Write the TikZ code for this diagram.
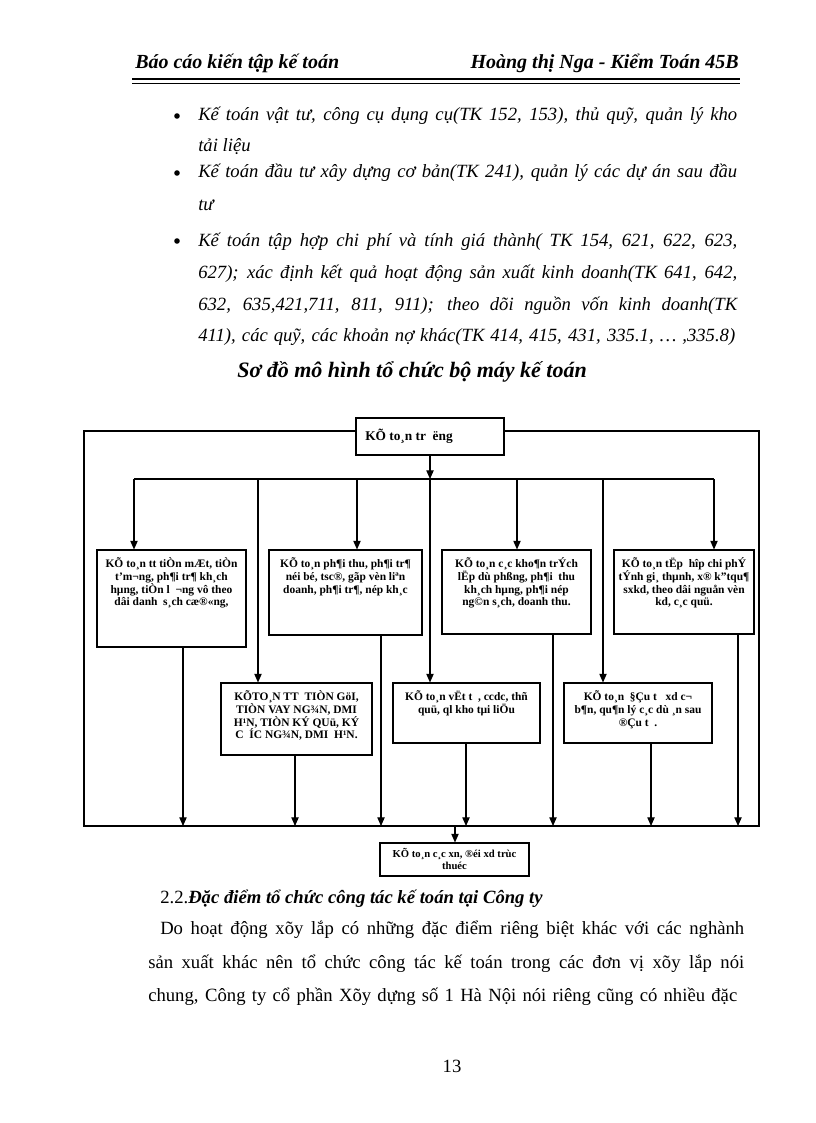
\documentclass[tikz,border=0pt]{standalone}
\usepackage{fontspec}
\setmainfont{Liberation Serif}
\usetikzlibrary{arrows.meta,fit,calc}
\begin{document}
\begin{tikzpicture}[x=0.75pt,y=-0.75pt,
  box/.style={draw,line width=0.8pt,inner sep=0pt},
  lbl/.style={font=\bfseries\fontsize{8.6}{9.6}\selectfont,align=center,anchor=north,inner sep=0pt},
  conn/.style={line width=0.8pt},
  arr/.style={line width=0.8pt,-{Triangle[length=6.5pt,width=5.5pt]}},
  ital/.style={anchor=base west,inner sep=0pt,font=\itshape\fontsize{14}{16}\selectfont},
  body/.style={anchor=base west,inner sep=0pt,font=\fontsize{14}{16}\selectfont},
  head/.style={inner sep=0pt,font=\bfseries\itshape\fontsize{15}{17}\selectfont}]
\useasboundingbox (0,0) rectangle (816,1123);
% header
\node[head,anchor=base west] (h1) at (135,69) {Báo cáo kiến tập kế toán};
\node[head,anchor=base east] (h2) at (739,69) {Hoàng thị Nga - Kiểm Toán 45B};
\draw[line width=1.3pt] (132,79) -- (740,79);
\draw[line width=0.5pt] (132,83) -- (740,83);
% bullets
\fill (177,116) circle (2.8);
\fill (177,173) circle (2.8);
\fill (177,241) circle (2.8);
\node[ital] (l1) at (198,121) {\makebox[404.25pt][s]{Kế toán vật tư, công cụ dụng cụ(TK 152, 153), thủ quỹ, quản lý kho}};
\node[ital] (l2) at (198,152) {tải liệu};
\node[ital] (l3) at (198,178) {\makebox[404.25pt][s]{Kế toán đầu tư xây dựng cơ bản(TK 241), quản lý các dự án sau đầu}};
\node[ital] (l4) at (198,210) {tư};
\node[ital] (l5) at (198,246) {\makebox[404.25pt][s]{Kế toán tập hợp chi phí và tính giá thành( TK 154, 621, 622, 623,}};
\node[ital] (l6) at (198,278) {\makebox[404.25pt][s]{627); xác định kết quả hoạt động sản xuất kinh doanh(TK 641, 642,}};
\node[ital] (l7) at (198,310) {\makebox[404.25pt][s]{632, 635,421,711, 811, 911); theo dõi nguồn vốn kinh doanh(TK}};
\node[ital] (l8) at (198,341) {\makebox[402.75pt][s]{411), các quỹ, các khoản nợ khác(TK 414, 415, 431, 335.1, … ,335.8)}};
% title
\node[head,anchor=base west,font=\bfseries\itshape\fontsize{16.5}{18}\selectfont] (title) at (237,377) {Sơ đồ mô hình tổ chức bộ máy kế toán};
% diagram
\node[box,fit={(356,418) (504,455)}] (T) {};
\node[lbl,anchor=west,font=\bfseries\fontsize{10}{11}\selectfont] (Tt) at (365,436) {KÕ to¸n tr\hspace{5pt}ëng};
\coordinate (FTL) at (84,431);
\coordinate (FTR) at (759,431);
\coordinate (FBL) at (84,826);
\coordinate (FBR) at (759,826);
\draw[conn] (FTL -| T.west) -- (FTL) -- (FBL) -- (FBR) -- (FTR) -- (FTL -| T.east);
\coordinate (busL) at (134,479);
\coordinate (busR) at (714,479);
\coordinate (v5) at (258,479);
\coordinate (v2) at (357,479);
\coordinate (v3) at (517,479);
\coordinate (v7) at (603,479);
\draw[conn] (busL) -- (busR);
\draw[arr] (T.south) -- (T.south |- busL);
% row 1 boxes
\node[box,fit={(97,550) (246,647)}] (B1) {};
\node[box,fit={(269,550) (422,635)}] (B2) {};
\node[box,fit={(442,550) (591,634)}] (B3) {};
\node[box,fit={(614,550) (754,634)}] (B4) {};
% row 2 boxes
\node[box,fit={(221,683) (372,755)}] (B5) {};
\node[box,fit={(393,683) (540,743)}] (B6) {};
\node[box,fit={(564,683) (712,743)}] (B7) {};
% bottom box
\node[box,fit={(380,843) (529,876)}] (BB) {};
% texts
\node[lbl] (t1) at ($(B1.north)+(0,8)$) {KÕ to¸n tt tiÒn mÆt, tiÒn\\ t’m¬ng, ph¶i tr¶ kh¸ch\\ hµng, tiÒn l\ \ ¬ng vô theo\\ dâi danh\ \ s¸ch cæ®«ng,};
\node[lbl] (t2) at ($(B2.north)+(0,8)$) {KÕ to¸n ph¶i thu, ph¶i tr¶\\ néi bé, tsc®, gãp vèn liªn\\ doanh, ph¶i tr¶, nép kh¸c};
\node[lbl] (t3) at ($(B3.north)+(0,8)$) {KÕ to¸n c¸c kho¶n trÝch\\ lËp dù phßng, ph¶i\ \ thu\\ kh¸ch hµng, ph¶i nép\\ ng©n s¸ch, doanh thu.};
\node[lbl] (t4) at ($(B4.north)+(0,8)$) {KÕ to¸n tËp\ \ hîp chi phÝ\\ tÝnh gi¸ thµnh, x® k”tqu¶\\ sxkd, theo dâi nguån vèn\\ kd, c¸c quü.};
\node[lbl] (t5) at ($(B5.north)+(0,8)$) {KÕTO¸N TT\ \ TIÒN GöI,\\ TIÒN VAY NG¾N, DMI\\ H¹N, TIÒN KÝ QUü, KÝ\\ C\ \ ÍC NG¾N, DMI\ \ H¹N.};
\node[lbl] (t6) at ($(B6.north)+(0,8)$) {KÕ to¸n vËt t\ \ , ccdc, thñ\\ quü, ql kho tµi liÖu};
\node[lbl] (t7) at ($(B7.north)+(0,8)$) {KÕ to¸n\ \ §Çu t\ \ \ xd c¬\\ b¶n, qu¶n lý c¸c dù ¸n sau\\ ®Çu t\ \ .};
\node[lbl,font=\bfseries\fontsize{8}{9}\selectfont] (tb) at ($(BB.north)+(0,6)$) {KÕ to¸n c¸c xn, ®éi xd trùc\\ thuéc};
% arrows from bus
\draw[arr] (busL) -- (busL |- B1.north);
\draw[arr] (v5) -- (v5 |- B5.north);
\draw[arr] (v2) -- (v2 |- B2.north);
\draw[arr] (T.south |- busL) -- (T.south |- B6.north);
\draw[arr] (v3) -- (v3 |- B3.north);
\draw[arr] (v7) -- (v7 |- B7.north);
\draw[arr] (busR) -- (busR |- B4.north);
% arrows to bottom line
\coordinate (o1) at (183,826);
\coordinate (o5) at (295,826);
\coordinate (o2) at (381,826);
\coordinate (o6) at (466,826);
\coordinate (o3) at (553,826);
\coordinate (o7) at (651,826);
\coordinate (o4) at (738,826);
\coordinate (ob) at (455,826);
\draw[arr] (o1 |- B1.south) -- (o1);
\draw[arr] (o5 |- B5.south) -- (o5);
\draw[arr] (o2 |- B2.south) -- (o2);
\draw[arr] (o6 |- B6.south) -- (o6);
\draw[arr] (o3 |- B3.south) -- (o3);
\draw[arr] (o7 |- B7.south) -- (o7);
\draw[arr] (o4 |- B4.south) -- (o4);
\draw[arr] (ob) -- (ob |- BB.north);
% section text
\node[body] (s1) at (160,903) {2.2.\textbf{\textit{Đặc điểm tổ chức công tác kế toán tại Công ty}}};
\node[body] (p1) at (160,934) {\makebox[438pt][s]{Do hoạt động xõy lắp có những đặc điểm riêng biệt khác với các nghành}};
\node[body] (p2) at (148,968) {\makebox[447pt][s]{sản xuất khác nên tổ chức công tác kế toán trong các đơn vị xõy lắp nói}};
\node[body] (p3) at (148,1001) {\makebox[441.75pt][s]{chung, Công ty cổ phần Xõy dựng số 1 Hà Nội nói riêng cũng có nhiều đặc}};
\node[body,anchor=base] (pg) at (452,1072) {13};
\end{tikzpicture}
\end{document}
